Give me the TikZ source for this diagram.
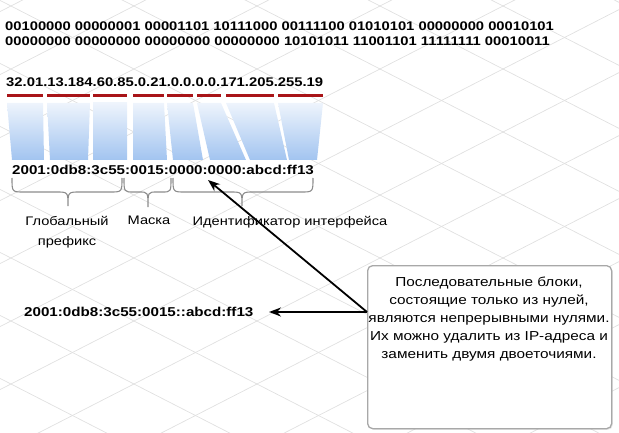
\documentclass[tikz,border=0pt]{standalone}
\usepackage{fontspec}
\setmainfont{Liberation Sans}[FakeStretch=1.18]
\usetikzlibrary{arrows.meta,shadows}
\definecolor{ulred}{HTML}{A81418}
\definecolor{trtop}{HTML}{EEF4FC}
\definecolor{trbot}{HTML}{A2C4F0}
\definecolor{gridc}{HTML}{E0E0E0}
\definecolor{bracec}{HTML}{8C8C8C}
\definecolor{boxc}{HTML}{A8A8A8}
\begin{document}
\begin{tikzpicture}[x=1pt,y=-1pt,
  gridline/.style={draw=gridc, line width=0.7pt},
  bin/.style={font=\bfseries\fontsize{12.5}{14}\selectfont, anchor=base west, inner sep=0pt},
  dec/.style={font=\bfseries\fontsize{12.55}{14}\selectfont, anchor=base west, inner sep=0pt},
  addr/.style={font=\bfseries\fontsize{12.85}{15}\selectfont, anchor=base west, inner sep=0pt},
  lab/.style={font=\fontsize{12.4}{20}\selectfont, align=center, inner sep=0pt},
  ulline/.style={draw=ulred, line width=3pt},
  trap/.style={top color=trtop, bottom color=trbot},
  bracestyle/.style={draw=bracec, line width=1.1pt},
  arr/.style={draw=black, line width=1.8pt, -{Stealth[length=12pt,width=9pt]}},
  note/.style={draw=boxc, line width=1.3pt, rounded corners=5pt, fill=white,
    drop shadow={shadow xshift=1.2pt, shadow yshift=-1.2pt, opacity=0.18}}]
\useasboundingbox (0,0) rectangle (619,433);
% background grid
\begin{scope}
\clip (0,0) rectangle (619,433);
\foreach \k in {-4,...,7}{\draw[gridline] (0,{-62.6+63*\k}) -- (619,{-62.6+63*\k+317});}
\foreach \k in {-5,...,6}{\draw[gridline] (0,{326.6+63*\k}) -- (619,{326.6+63*\k-317});}
\end{scope}
% binary
\node[bin] (b1) at (5,31) {00100000 00000001 00001101 10111000 00111100 01010101 00000000 00010101};
\node[bin] (b2) at (5,46) {00000000 00000000 00000000 00000000 10101011 11001101 11111111 00010011};
% dotted decimal
\node[dec] (dec) at (6,87) {32.01.13.184.60.85.0.21.0.0.0.0.171.205.255.19};
% underlines
\foreach \a/\b in {7/43,47/90,93/127,133/164,167/193,197/221,226/274,278/323}
  {\draw[ulline] (\a,96) -- (\b,96);}
% trapezoids
\foreach \a/\b/\c/\d in {7/43/12/44,47/90/50/88,93/127/93/127,133/164/133/167,167/193/173/203,197/221/210/246,226/274/250/287,278/323/289/317}
  {\shade[trap] (\a,103) -- (\b,103) -- (\d,160) -- (\c,160) -- cycle;}
% IPv6 full
\node[addr] (v6) at (12,175) {2001:0db8:3c55:0015:0000:0000:abcd:ff13};
% braces
\draw[bracestyle] (12,178) .. controls (12,192) .. (24,192) -- (56,192) .. controls (68,192) .. (68,206)
   .. controls (68,192) .. (80,192) -- (110,192) .. controls (122,192) .. (122,178);
\draw[bracestyle] (124,178) .. controls (124,192) .. (134,192) -- (139,192) .. controls (148,192) .. (148,207)
   .. controls (148,192) .. (157,192) -- (162,192) .. controls (171,192) .. (171,178);
\draw[bracestyle] (173,178) .. controls (173,192) .. (185,192) -- (230,192) .. controls (242,192) .. (242,206)
   .. controls (242,192) .. (254,192) -- (301,192) .. controls (313,192) .. (313,178);
% labels
\node[lab, anchor=north] (lglob) at (67,216) {Глобальный\\префикс};
\node[lab, anchor=north] (lmask) at (149,216) {Маска};
\node[lab, anchor=north] (lid) at (290,216) {Идентификатор интерфейса};
% short IPv6
\node[addr] (v6s) at (24,316) {2001:0db8:3c55:0015::abcd:ff13};
% note box
\node[note, minimum width=244pt, minimum height=163pt, anchor=north west] (box) at (367,265) {};
\node[lab, anchor=north, font=\fontsize{13}{18}\selectfont] (boxtext) at (489,277)
  {Последовательные блоки,\\состоящие только из нулей,\\являются непрерывными нулями.\\Их можно удалить из IP-адреса и\\заменить двумя двоеточиями.};
% arrows
\coordinate (v) at (367,312);
\coordinate (t1) at (208,180);
\coordinate (t2) at (269,312);
\draw[arr] (v) -- (t1);
\draw[arr] (v) -- (t2);
\end{tikzpicture}
\end{document}
